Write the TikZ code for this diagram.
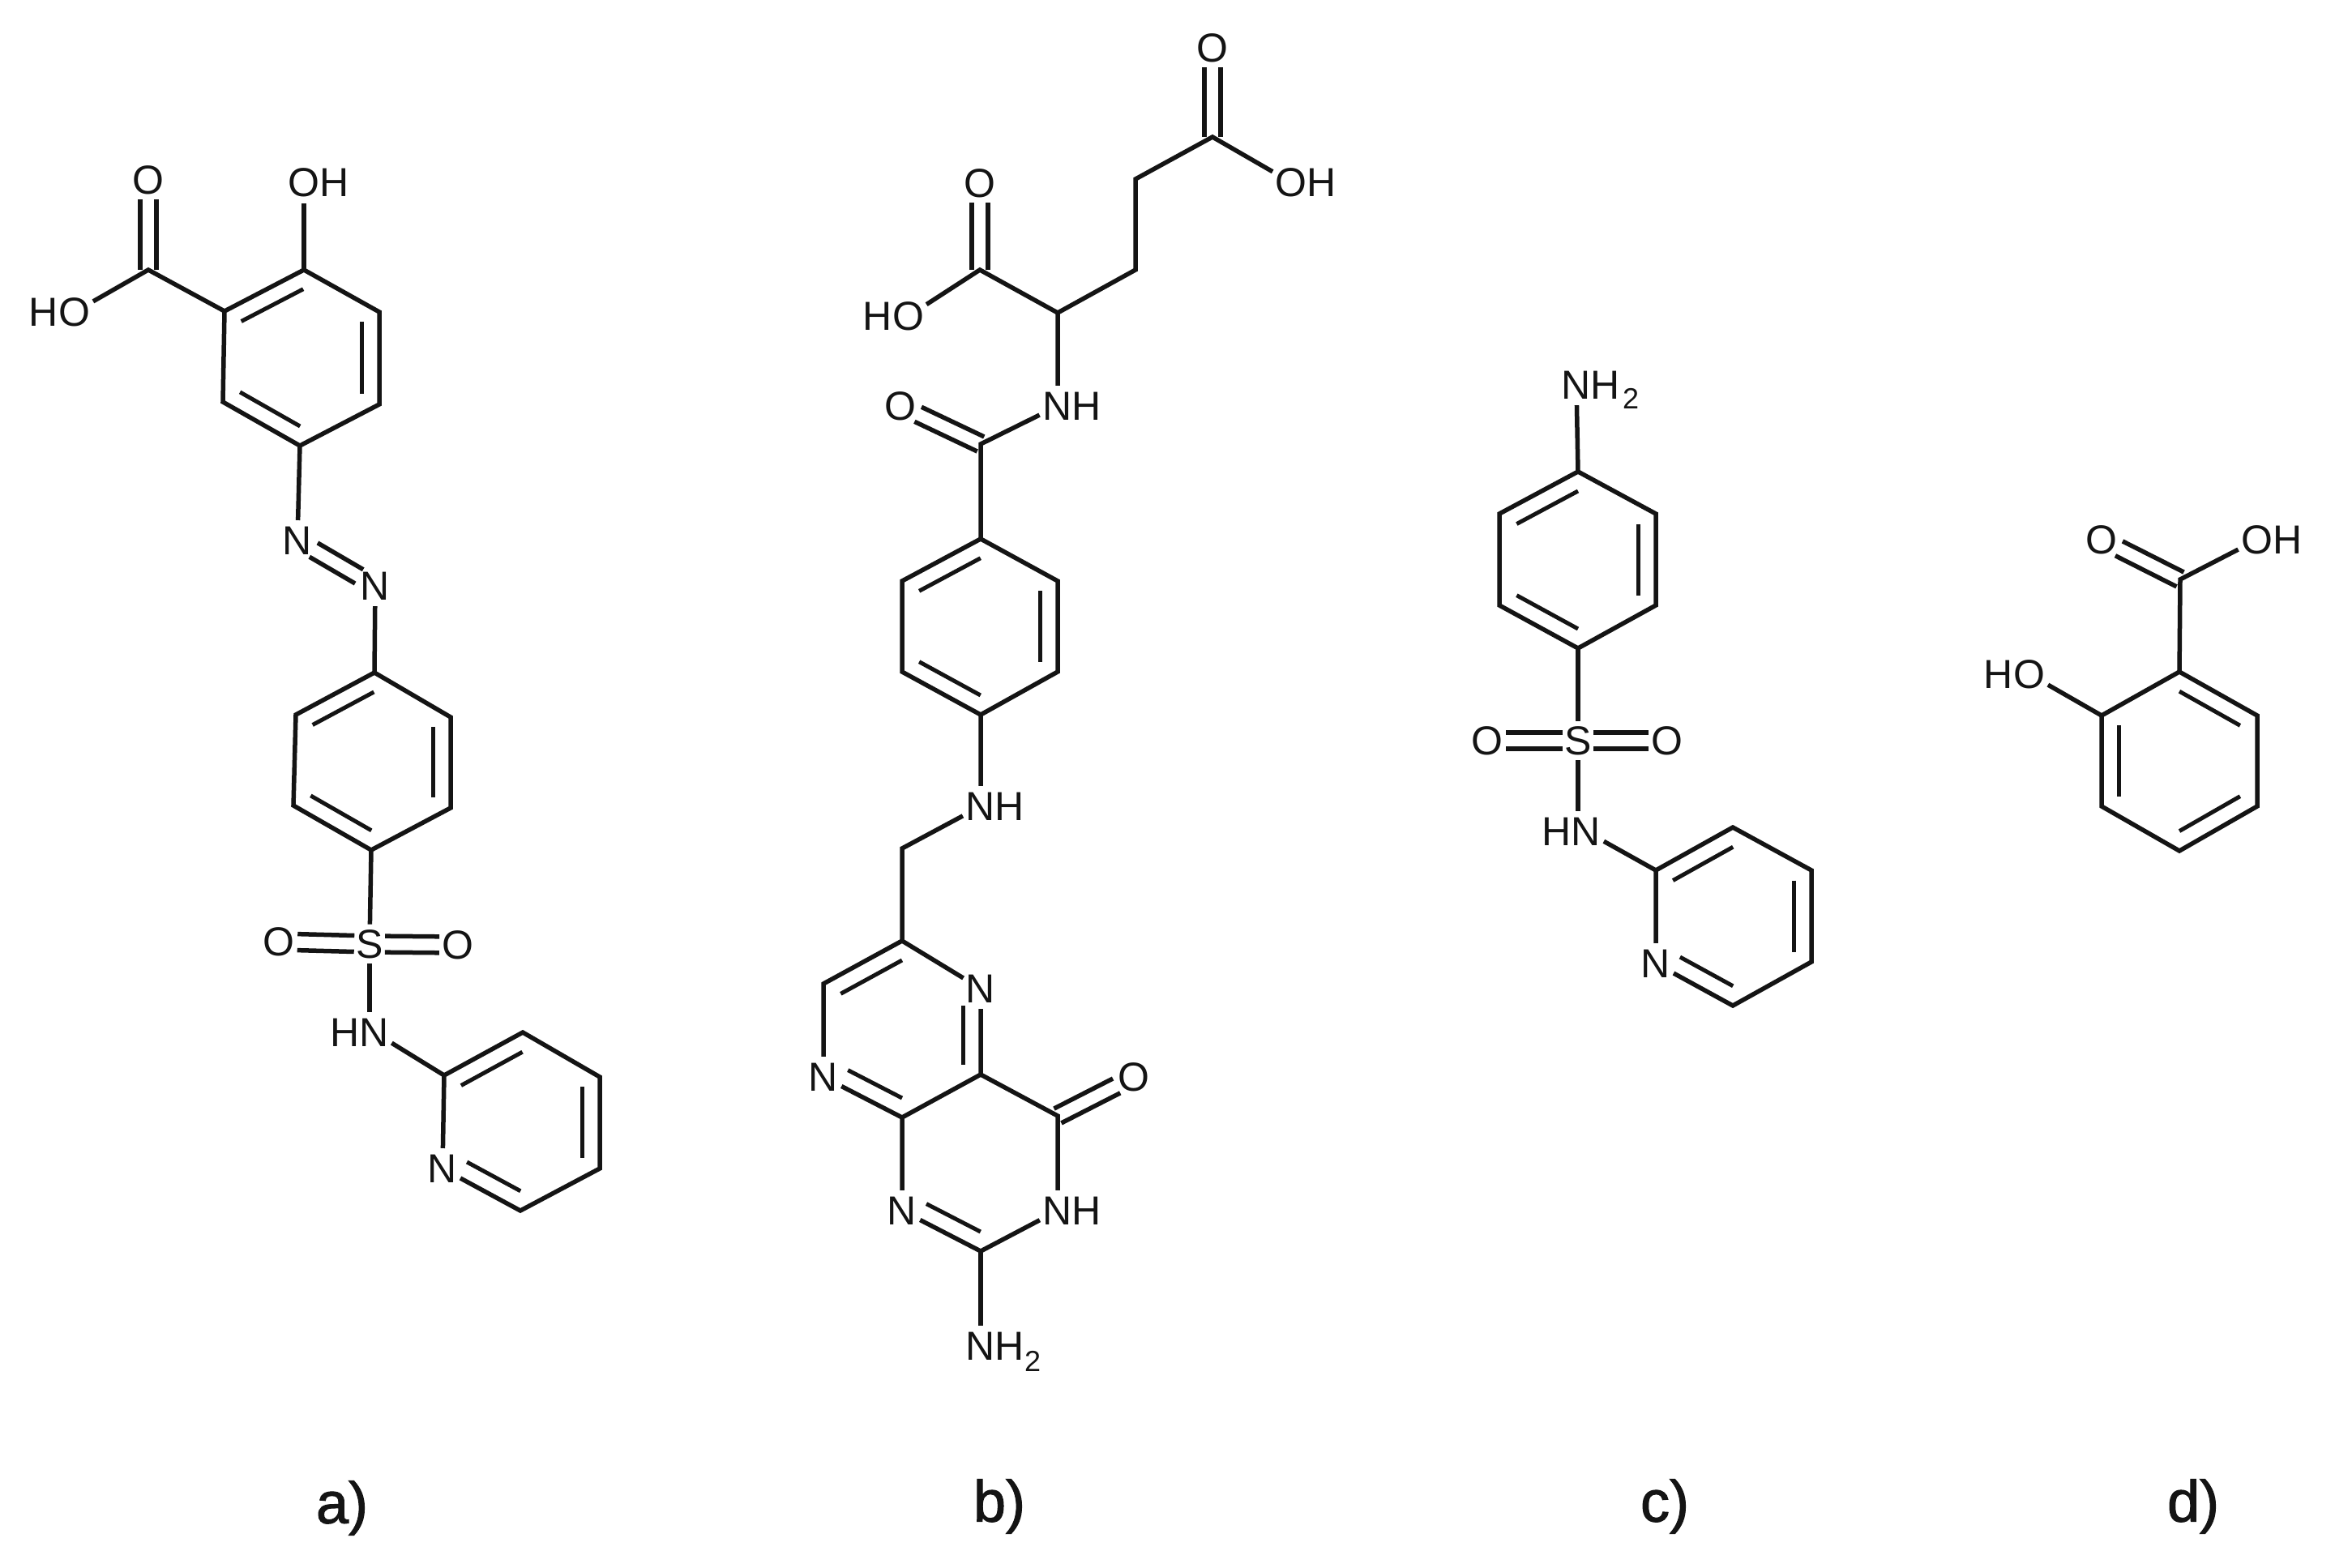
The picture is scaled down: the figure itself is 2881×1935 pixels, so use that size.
\documentclass[tikz,border=0pt]{standalone}
\usepackage{fontspec}
\setmainfont{Liberation Sans}
\newfontfamily\panelfont[RawFeature={embolden=1.5}]{Liberation Sans}
\usetikzlibrary{calc}
\definecolor{ink}{HTML}{141414}
\tikzset{
  bond/.style={draw=ink,line width=5.5pt,line cap=butt,line join=miter},
  fine/.style={draw=ink,line width=5pt},
  atom/.style={shape=circle,inner sep=0pt,minimum size=48pt,text=ink,font=\fontsize{50}{50}\selectfont},
  hyd/.style={inner sep=0pt,text=ink,font=\fontsize{50}{50}\selectfont},
  subs/.style={inner sep=0pt,text=ink,font=\fontsize{36}{36}\selectfont},
  panel/.style={inner sep=0pt,text=ink,font=\panelfont\fontsize{72}{72}\selectfont}
}
% symmetric double bond: from, to, shorten at start, shorten at end
\newcommand{\symdbl}[4]{%
  \draw[bond,shorten <=#3,shorten >=#4] ($(#1)!10pt!90:(#2)$) -- ($(#2)!10pt!-90:(#1)$);
  \draw[bond,shorten <=#3,shorten >=#4] ($(#1)!10pt!-90:(#2)$) -- ($(#2)!10pt!90:(#1)$);}
% inner ring line: from, to, ring centre, shorten at start
\newcommand{\inring}[4]{%
  \draw[fine,shorten <=#4] ($(#1)!.22!(#3)$) -- ($(#2)!.22!(#3)$);}
\begin{document}
\begin{tikzpicture}[x=1pt,y=-1pt]
\useasboundingbox (0,0) rectangle (2881,1935);
\fill[white] (0,0) rectangle (2881,1935);

%% ---------- a) ----------
\coordinate (a1) at (375,333);
\coordinate (a2) at (468,385);
\coordinate (a3) at (468,499);
\coordinate (a4) at (370,550);
\coordinate (a5) at (275,496);
\coordinate (a6) at (277,384);
\coordinate (ar) at (371,441);
\coordinate (acc) at (183,333);
\node[atom] (aco) at (183,222) {O};
\node[atom] (aho) at (92,385) {O};
\node[hyd] (ahoh) at (54,385) {H};
\node[atom] (aoh) at (375,225) {O};
\node[hyd] (aohh) at (413,225) {H};
\node[atom] (an1) at (367,667) {N};
\node[atom] (an2) at (463,723) {N};
\coordinate (b1) at (462,830);
\coordinate (b2) at (556,885);
\coordinate (b3) at (556,997);
\coordinate (b4) at (458,1049);
\coordinate (b5) at (362,994);
\coordinate (b6) at (365,882);
\coordinate (br) at (459,939);
\node[atom] (as) at (456,1165) {S};
\node[atom] (aso1) at (344,1162) {O};
\node[atom] (aso2) at (565,1166) {O};
\node[atom] (ahn) at (462,1274) {N};
\node[hyd] (ahnh) at (426,1274) {H};
\coordinate (c1) at (548,1327);
\coordinate (c2) at (645,1274);
\coordinate (c3) at (740,1329);
\coordinate (c4) at (740,1442);
\coordinate (c5) at (642,1494);
\node[atom] (cn) at (546,1442) {N};
\coordinate (cr) at (643,1384);
\node[panel] (la) at (422,1861) {a)};

\draw[bond] (a1) -- (a2) -- (a3) -- (a4) -- (a5) -- (a6) -- cycle;
\inring{a6}{a1}{ar}{0pt}
\inring{a2}{a3}{ar}{0pt}
\inring{a4}{a5}{ar}{0pt}
\draw[bond] (a1) -- (aoh);
\draw[bond] (a6) -- (acc) -- (aho);
\symdbl{acc}{aco}{0pt}{24pt}
\draw[bond] (a4) -- (an1);
\symdbl{an1}{an2}{23pt}{23pt}
\draw[bond] (an2) -- (b1);
\draw[bond] (b1) -- (b2) -- (b3) -- (b4) -- (b5) -- (b6) -- cycle;
\inring{b6}{b1}{br}{0pt}
\inring{b2}{b3}{br}{0pt}
\inring{b4}{b5}{br}{0pt}
\draw[bond] (b4) -- (as);
\symdbl{as}{aso1}{19pt}{23pt}
\symdbl{as}{aso2}{19pt}{23pt}
\draw[bond] (as.south) -- (as|-ahn.north);
\draw[bond] (ahn) -- (c1);
\draw[bond] (cn) -- (c1) -- (c2) -- (c3) -- (c4) -- (c5) -- (cn);
\inring{c1}{c2}{cr}{0pt}
\inring{c3}{c4}{cr}{0pt}
\inring{cn}{c5}{cr}{10pt}

%% ---------- b) ----------
\node[atom] (bo1) at (1496,59) {O};
\coordinate (bc1) at (1496,169);
\node[atom] (bo2) at (1593,225) {O};
\node[hyd] (bo2h) at (1631,225) {H};
\coordinate (bc2) at (1401,221);
\coordinate (bc3) at (1401,333);
\coordinate (bc4) at (1305,386);
\coordinate (bc5) at (1209,333);
\node[atom] (bo3) at (1209,226) {O};
\node[atom] (bo4) at (1121,390) {O};
\node[hyd] (bo4h) at (1083,390) {H};
\node[atom] (bn1) at (1305,501) {N};
\node[hyd] (bn1h) at (1341,501) {H};
\coordinate (bc6) at (1210,548);
\node[atom] (bo5) at (1111,501) {O};
\coordinate (d1) at (1210,665);
\coordinate (d2) at (1305,717);
\coordinate (d3) at (1305,829);
\coordinate (d4) at (1210,882);
\coordinate (d5) at (1113,829);
\coordinate (d6) at (1113,717);
\coordinate (dr) at (1209,773);
\node[atom] (bn2) at (1210,995) {N};
\node[hyd] (bn2h) at (1246,995) {H};
\coordinate (bc7) at (1113,1047);
\coordinate (e1) at (1113,1161);
\node[atom] (en1) at (1210,1220) {N};
\coordinate (e3) at (1210,1326);
\coordinate (e4) at (1113,1379);
\node[atom] (en2) at (1016,1329) {N};
\coordinate (e6) at (1016,1214);
\coordinate (er) at (1113,1270);
\coordinate (p1) at (1305,1377);
\node[atom] (bo6) at (1399,1329) {O};
\node[atom] (bn3) at (1305,1494) {N};
\node[hyd] (bn3h) at (1341,1494) {H};
\coordinate (p2) at (1210,1544);
\node[atom] (bn4) at (1113,1494) {N};
\coordinate (pr) at (1209,1435);
\node[atom] (bn5) at (1210,1661) {N};
\node[hyd] (bn5h) at (1246,1661) {H};
\node[subs] (bn5s) at (1274,1680) {2};
\node[panel] (lb) at (1233,1859) {b)};

\symdbl{bc1}{bo1}{0pt}{24pt}
\draw[bond] (bo2) -- (bc1) -- (bc2) -- (bc3) -- (bc4) -- (bc5) -- (bo4);
\symdbl{bc5}{bo3}{0pt}{24pt}
\draw[bond] (bc4) -- (bn1) -- (bc6) -- (d1);
\symdbl{bc6}{bo5}{0pt}{24pt}
\draw[bond] (d1) -- (d2) -- (d3) -- (d4) -- (d5) -- (d6) -- cycle;
\inring{d6}{d1}{dr}{0pt}
\inring{d2}{d3}{dr}{0pt}
\inring{d4}{d5}{dr}{0pt}
\draw[bond] (d4) -- (bn2) -- (bc7) -- (e1);
\draw[bond] (e1) -- (en1) -- (e3) -- (e4) -- (en2) -- (e6) -- (e1);
\inring{e6}{e1}{er}{0pt}
\inring{en1}{e3}{er}{10pt}
\inring{en2}{e4}{er}{10pt}
\draw[bond] (e3) -- (p1) -- (bn3) -- (p2) -- (bn4) -- (e4);
\inring{bn4}{p2}{pr}{10pt}
\symdbl{p1}{bo6}{0pt}{24pt}
\draw[bond] (p2) -- (bn5);

%% ---------- c) ----------
\node[atom] (cnh) at (1945,475) {N};
\node[hyd] (cnhh) at (1981,475) {H};
\node[subs] (cnhs) at (2012,492) {2};
\coordinate (f1) at (1947,582);
\coordinate (f2) at (2043,634);
\coordinate (f3) at (2043,747);
\coordinate (f4) at (1947,800);
\coordinate (f5) at (1850,747);
\coordinate (f6) at (1850,634);
\coordinate (fr) at (1947,691);
\node[atom] (cs) at (1947,914) {S};
\node[atom] (cso1) at (1835,914) {O};
\node[atom] (cso2) at (2057,914) {O};
\node[atom] (chn) at (1957,1026) {N};
\node[hyd] (chnh) at (1921,1026) {H};
\coordinate (g1) at (2043,1074);
\coordinate (g2) at (2138,1021);
\coordinate (g3) at (2235,1074);
\coordinate (g4) at (2235,1187);
\coordinate (g5) at (2138,1241);
\node[atom] (gn) at (2043,1189) {N};
\coordinate (gr) at (2139,1131);
\node[panel] (lc) at (2054,1859) {c)};

\draw[bond] (cnh) -- (f1);
\draw[bond] (f1) -- (f2) -- (f3) -- (f4) -- (f5) -- (f6) -- cycle;
\inring{f6}{f1}{fr}{0pt}
\inring{f2}{f3}{fr}{0pt}
\inring{f4}{f5}{fr}{0pt}
\draw[bond] (f4) -- (cs);
\symdbl{cs}{cso1}{19pt}{23pt}
\symdbl{cs}{cso2}{19pt}{23pt}
\draw[bond] (cs.south) -- (cs|-chn.north);
\draw[bond] (chn) -- (g1);
\draw[bond] (gn) -- (g1) -- (g2) -- (g3) -- (g4) -- (g5) -- (gn);
\inring{g1}{g2}{gr}{0pt}
\inring{g3}{g4}{gr}{0pt}
\inring{gn}{g5}{gr}{10pt}

%% ---------- d) ----------
\node[atom] (do1) at (2593,666) {O};
\node[atom] (do2) at (2785,666) {O};
\node[hyd] (do2h) at (2823,666) {H};
\coordinate (dc) at (2690,715);
\coordinate (k1) at (2689,829);
\coordinate (k2) at (2785,883);
\coordinate (k3) at (2785,995);
\coordinate (k4) at (2689,1050);
\coordinate (k5) at (2593,995);
\coordinate (k6) at (2593,883);
\coordinate (kr) at (2689,939);
\node[atom] (do3) at (2504,832) {O};
\node[hyd] (do3h) at (2466,832) {H};
\node[panel] (ld) at (2706,1859) {d)};

\draw[bond] (k1) -- (k2) -- (k3) -- (k4) -- (k5) -- (k6) -- cycle;
\inring{k1}{k2}{kr}{0pt}
\inring{k3}{k4}{kr}{0pt}
\inring{k5}{k6}{kr}{0pt}
\draw[bond] (k1) -- (dc) -- (do2);
\symdbl{dc}{do1}{0pt}{24pt}
\draw[bond] (k6) -- (do3);
\end{tikzpicture}
\end{document}
